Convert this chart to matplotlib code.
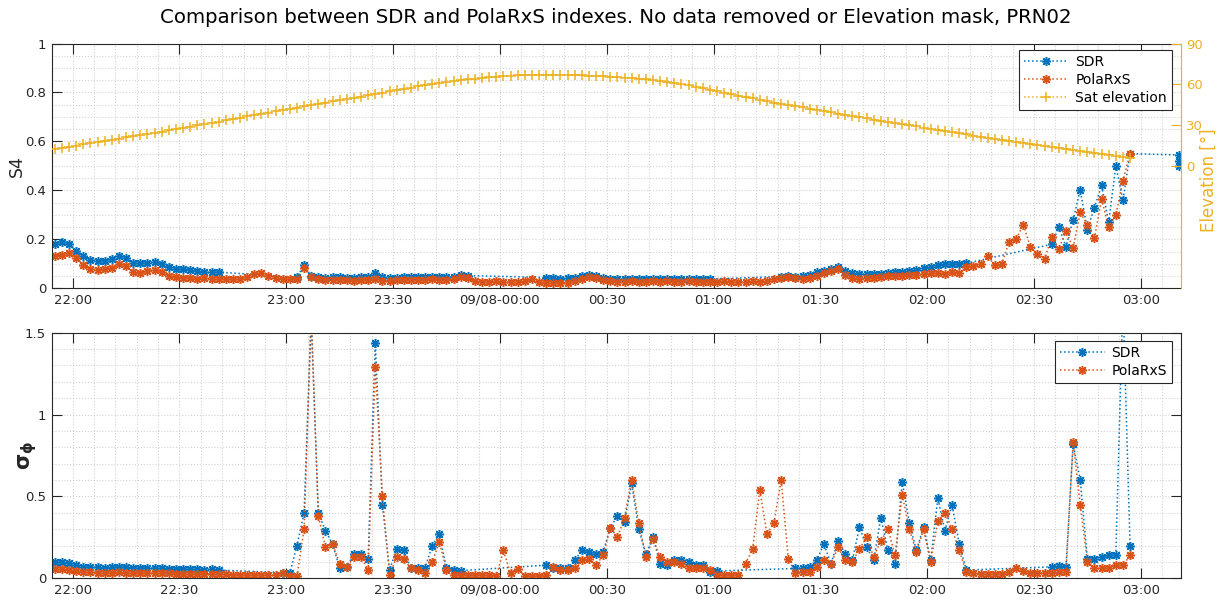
import numpy as np
import pandas as pd
import matplotlib
matplotlib.use('Agg')
import matplotlib.pyplot as plt
import matplotlib.dates as mdates
from matplotlib.ticker import MultipleLocator, FuncFormatter

# sample times, minutes after 22:00 (one value every 2 min)
minutes = np.arange(-5, 299, 2)
base = pd.Timestamp('2017-09-07 22:00')

# S4, PolaRxS
s4_pol = [
    0.131, 0.138, 0.145, 0.125, 0.095, 0.080, 0.074, 0.078, 0.084, 0.098,
    0.092, 0.066, 0.063, 0.069, 0.074, 0.066, 0.052, 0.046, 0.042, 0.041,
    0.040, 0.041, 0.040, 0.039, 0.040, 0.039, 0.040, 0.048, 0.058, 0.061,
    0.052, 0.044, 0.038, 0.036, 0.040, 0.082, 0.045, 0.036, 0.034, 0.033,
    0.035, 0.032, 0.031, 0.034, 0.033, 0.036, 0.030, 0.031, 0.032, 0.034,
    0.033, 0.034, 0.034, 0.036, 0.034, 0.033, 0.038, 0.045, 0.042, 0.028,
    0.027, 0.026, 0.028, 0.027, 0.026, 0.027, 0.028, 0.036, 0.025, 0.021,
    0.020, 0.021, 0.022, 0.030, 0.040, 0.046, 0.042, 0.032, 0.028, 0.027,
    0.026, 0.028, 0.027, 0.026, 0.028, 0.027, 0.028, 0.027, 0.026, 0.028,
    0.027, 0.026, 0.027, 0.026, 0.028, 0.027, 0.026, 0.027, 0.028, 0.027,
    0.030, 0.038, 0.044, 0.046, 0.042, 0.040, 0.042, 0.052, 0.062, 0.070,
    0.080, 0.055, 0.042, 0.040, 0.042, 0.044, 0.048, 0.050, 0.050, 0.052,
    0.054, 0.056, 0.060, 0.062, 0.064, 0.060, 0.066, 0.064, 0.085, 0.092,
    0.098, 0.130, 0.095, 0.100, 0.190, 0.200, 0.260, 0.170, 0.140, 0.120,
    0.210, 0.160, 0.235, 0.165, 0.310, 0.260, 0.205, 0.365, 0.250, 0.300,
    0.440, 0.550]

# S4, SDR (None = no sample, line joins over the gap)
s4_sdr = [
    0.182, 0.190, 0.182, 0.152, 0.130, 0.116, 0.112, 0.113, 0.120, 0.133,
    0.122, 0.102, 0.105, 0.103, 0.109, 0.100, 0.087, 0.080, 0.077, 0.073,
    0.070, 0.066, 0.065, 0.066, None, None, None, None, None, None,
    None, None, None, None, 0.045, 0.095, 0.050, 0.046, 0.044, 0.045,
    0.047, 0.044, 0.043, 0.045, 0.048, 0.062, 0.045, 0.043, 0.044, 0.045,
    0.046, 0.045, 0.046, 0.046, 0.045, 0.046, 0.047, 0.055, 0.052, None,
    None, None, None, None, None, None, None, None, None, 0.044,
    0.041, 0.040, 0.041, 0.044, 0.052, 0.055, 0.052, 0.043, 0.040, 0.039,
    0.038, 0.039, 0.040, 0.039, 0.038, 0.039, 0.040, 0.039, 0.038, 0.039,
    0.040, 0.039, 0.038, None, None, None, None, None, None, None,
    None, None, 0.048, 0.050, 0.048, 0.050, 0.055, 0.065, 0.070, 0.080,
    0.089, 0.070, 0.061, 0.058, 0.057, 0.058, 0.060, 0.062, 0.066, 0.068,
    0.070, 0.075, 0.082, 0.088, 0.095, 0.098, 0.100, 0.100, 0.102, None,
    None, None, None, None, None, None, None, None, None, None,
    0.180, 0.250, 0.170, 0.280, 0.400, 0.240, 0.330, 0.420, 0.270, 0.500,
    0.360, 0.550]
# last SDR block at 03:11
s4_sdr_tail_min = [310.8, 310.8, 310.8]
s4_sdr_tail = [0.545, 0.520, 0.500]

# satellite elevation [deg]
elev = [
    12.3, 13.2, 14.1, 15.0, 15.8, 16.7, 17.6, 18.5, 19.3, 20.1,
    21.0, 21.8, 22.7, 23.5, 24.4, 25.2, 26.1, 26.9, 27.9, 28.8,
    29.8, 30.7, 31.7, 32.6, 33.6, 34.5, 35.5, 36.4, 37.4, 38.3,
    39.2, 40.2, 41.1, 42.0, 42.9, 43.8, 44.7, 45.6, 46.5, 47.4,
    48.3, 49.2, 50.1, 51.0, 51.9, 52.9, 53.8, 54.8, 55.8, 56.7,
    57.6, 58.5, 59.3, 60.1, 60.9, 61.6, 62.3, 63.0, 63.6, 64.2,
    64.7, 65.2, 65.6, 66.0, 66.3, 66.6, 66.8, 66.9, 67.0, 67.0,
    67.0, 66.9, 66.8, 66.7, 66.5, 66.3, 66.1, 65.9, 65.6, 65.3,
    65.0, 64.6, 64.2, 63.7, 63.1, 62.5, 61.8, 61.0, 60.1, 59.2,
    58.2, 57.2, 56.1, 55.0, 53.9, 52.8, 51.7, 50.6, 49.6, 48.6,
    47.6, 46.6, 45.7, 44.8, 43.9, 43.0, 42.1, 41.2, 40.3, 39.4,
    38.5, 37.6, 36.7, 35.8, 34.9, 34.1, 33.2, 32.4, 31.5, 30.7,
    29.8, 29.0, 28.1, 27.3, 26.4, 25.6, 24.8, 23.9, 23.1, 22.3,
    21.5, 20.7, 20.0, 19.2, 18.5, 17.7, 17.0, 16.3, 15.5, 14.8,
    14.0, 13.3, 12.5, 11.8, 11.0, 10.3, 9.6, 8.8, 8.1, 7.4,
    6.7, 6.0]

# sigma phi, PolaRxS
sig_pol = [
    0.055, 0.055, 0.050, 0.042, 0.038, 0.036, 0.035, 0.035, 0.034, 0.036,
    0.034, 0.033, 0.032, 0.033, 0.031, 0.030, 0.032, 0.029, 0.028, 0.027,
    0.028, 0.026, 0.025, 0.024, 0.025, 0.022, 0.020, 0.021, 0.020, 0.019,
    0.021, 0.022, 0.030, 0.015, 0.012, 0.300, 1.600, 0.380, 0.190, 0.210,
    0.090, 0.070, 0.130, 0.130, 0.050, 1.290, 0.500, 0.020, 0.130, 0.120,
    0.060, 0.050, 0.030, 0.100, 0.220, 0.050, 0.020, 0.020, 0.020, 0.020,
    0.018, 0.020, 0.015, 0.170, 0.030, 0.055, 0.015, 0.015, 0.016, 0.020,
    0.070, 0.050, 0.050, 0.060, 0.110, 0.120, 0.080, 0.140, 0.310, 0.250,
    0.370, 0.600, 0.340, 0.130, 0.240, 0.130, 0.100, 0.100, 0.090, 0.060,
    0.060, 0.060, 0.050, 0.020, 0.020, 0.020, 0.020, 0.090, 0.180, 0.540,
    0.270, 0.340, 0.600, 0.120, 0.030, 0.040, 0.040, 0.070, 0.110, 0.090,
    0.190, 0.110, 0.100, 0.180, 0.250, 0.130, 0.230, 0.300, 0.140, 0.510,
    0.300, 0.160, 0.300, 0.100, 0.350, 0.400, 0.300, 0.170, 0.040, 0.030,
    0.026, 0.025, 0.027, 0.028, 0.040, 0.060, 0.045, 0.035, 0.033, 0.034,
    0.035, 0.036, 0.040, 0.830, 0.450, 0.100, 0.060, 0.060, 0.065, 0.080,
    0.080, 0.140]

# sigma phi, SDR
sig_sdr = [
    0.100, 0.100, 0.095, 0.080, 0.070, 0.068, 0.066, 0.065, 0.066, 0.068,
    0.066, 0.064, 0.063, 0.065, 0.062, 0.060, 0.058, 0.058, 0.056, 0.055,
    0.054, 0.053, 0.055, 0.050, None, None, None, None, None, None,
    None, None, 0.035, 0.030, 0.200, 0.400, 1.600, 0.400, 0.290, 0.210,
    0.060, 0.070, 0.150, 0.150, 0.120, 1.440, 0.450, 0.050, 0.180, 0.170,
    0.060, 0.060, 0.065, 0.200, 0.270, 0.060, 0.050, 0.047, None, None,
    None, None, None, None, None, None, None, None, None, 0.080,
    0.060, 0.060, 0.065, 0.110, 0.170, 0.160, 0.150, 0.160, 0.310, 0.380,
    0.345, 0.580, 0.300, 0.150, 0.250, 0.090, 0.080, 0.110, 0.110, 0.100,
    0.080, 0.080, 0.040, 0.045, None, None, None, None, None, None,
    None, None, None, None, 0.060, 0.060, 0.070, 0.110, 0.210, 0.090,
    0.230, 0.150, 0.110, 0.315, 0.190, 0.110, 0.370, 0.170, 0.090, 0.590,
    0.340, 0.170, 0.315, 0.110, 0.490, 0.290, 0.450, 0.210, 0.050, None,
    None, None, None, None, None, None, None, None, None, None,
    0.070, 0.075, 0.070, 0.820, 0.600, 0.120, 0.120, 0.130, 0.140, 0.140,
    1.700, 0.200]

for arr in (s4_pol, s4_sdr, elev, sig_pol, sig_sdr):
    assert len(arr) == len(minutes), len(arr)

c_sdr = '#0072BD'
c_pol = '#D95319'
c_elev = '#EDB120'
c_axis = '#262626'
asterisk = (8, 2, 0)


def to_time(mins):
    return (base + pd.to_timedelta(np.asarray(mins, dtype=float), unit='m')).to_numpy()


def plot_series(ax, mins, vals, color, marker, label, ms=6.5, extra=None):
    v = np.array(vals, dtype=float)
    ok = ~np.isnan(v)
    t = np.asarray(mins, dtype=float)[ok]
    v = v[ok]
    if extra is not None:
        t = np.concatenate([t, extra[0]])
        v = np.concatenate([v, extra[1]])
    line, = ax.plot(to_time(t), v, linestyle=':', linewidth=1.1, color=color,
                    marker=marker, markersize=ms, markeredgewidth=1.1,
                    label=label)
    return line


def time_label(x, pos):
    d = mdates.num2date(x)
    if d.hour == 0 and d.minute == 0:
        return d.strftime('%m/%d-%H:%M')
    return d.strftime('%H:%M')


def style_axes(ax, ymin, ymax, ymaj, ymin_step, right=True):
    ax.set_xlim(to_time([-5.9])[0], to_time([311.2])[0])
    ax.set_ylim(ymin, ymax)
    ax.xaxis.set_major_locator(mdates.MinuteLocator(byminute=[0, 30]))
    ax.xaxis.set_minor_locator(mdates.MinuteLocator(byminute=range(0, 60, 6)))
    ax.xaxis.set_major_formatter(FuncFormatter(time_label))
    ax.yaxis.set_major_locator(MultipleLocator(ymaj))
    ax.yaxis.set_minor_locator(MultipleLocator(ymin_step))
    ax.yaxis.set_major_formatter(FuncFormatter(lambda v, p: '%g' % v))
    ax.grid(True, which='both', linestyle=':', linewidth=0.8, color='#d2d2d2')
    ax.set_axisbelow(True)
    ax.tick_params(which='major', direction='in', length=7, width=0.8,
                   top=True, right=right, labelsize=9.5, colors=c_axis, pad=4)
    ax.tick_params(which='minor', length=0)
    for s in ax.spines.values():
        s.set_color(c_axis)
        s.set_linewidth(0.8)


fig = plt.figure(figsize=(12.27, 6.01), dpi=100)
ax1 = fig.add_axes([0.0421, 0.5203, 0.9201, 0.4073])
ax3 = fig.add_axes([0.0421, 0.0378, 0.9201, 0.4086])

# top: S4 + elevation
l1 = plot_series(ax1, minutes, s4_sdr, c_sdr, asterisk, 'SDR',
                 extra=(s4_sdr_tail_min, s4_sdr_tail))
l2 = plot_series(ax1, minutes, s4_pol, c_pol, asterisk, 'PolaRxS')
style_axes(ax1, 0, 1, 0.2, 0.05, right=False)
ax1.spines['right'].set_visible(False)
ax1.set_ylabel('S4', fontsize=12.5, color=c_axis)
ax1.yaxis.set_label_coords(-0.023, 0.5)

ax2 = ax1.twinx()
l3 = plot_series(ax2, minutes, elev, c_elev, '+', 'Sat elevation', ms=7)
ax2.set_ylim(-90, 90)
ax2.set_yticks([0, 30, 60, 90])
ax2.tick_params(axis='y', direction='in', length=7, width=0.8,
                labelsize=9.5, colors=c_elev, pad=4)
for k in ('top', 'left', 'bottom'):
    ax2.spines[k].set_visible(False)
ax2.spines['right'].set_color(c_elev)
ax2.spines['right'].set_linewidth(0.8)
ax2.set_ylabel('Elevation [°]', fontsize=12, color=c_elev)
ax2.yaxis.set_label_coords(1.017, 0.44)

leg = ax2.legend(handles=[l1, l2, l3], loc='upper right',
                 bbox_to_anchor=(0.9923, 0.9735), borderaxespad=0,
                 fontsize=10, numpoints=1, handlelength=3.2,
                 handletextpad=0.5, labelspacing=0.3, borderpad=0.35,
                 fancybox=False, framealpha=1, edgecolor=c_axis)
leg.get_frame().set_linewidth(0.8)

# bottom: sigma phi
m1 = plot_series(ax3, minutes, sig_sdr, c_sdr, asterisk, 'SDR')
m2 = plot_series(ax3, minutes, sig_pol, c_pol, asterisk, 'PolaRxS')
style_axes(ax3, 0, 1.5, 0.5, 0.1)
ax3.set_ylabel(r'$\mathbf{\sigma}_{\mathbf{\phi}}$', fontsize=15, color=c_axis)
ax3.yaxis.set_label_coords(-0.011, 0.5)
leg2 = ax3.legend(handles=[m1, m2], loc='upper right',
                  bbox_to_anchor=(0.9923, 0.9662), borderaxespad=0,
                  fontsize=10, numpoints=1, handlelength=3.2,
                  handletextpad=0.5, labelspacing=0.3, borderpad=0.35,
                  fancybox=False, framealpha=1, edgecolor=c_axis)
leg2.get_frame().set_linewidth(0.8)

fig.text(0.502, 0.9717,
         'Comparison between SDR and PolaRxS indexes. No data removed or '
         'Elevation mask, PRN02',
         ha='center', va='center', fontsize=14.2, color='black')

fig.savefig('out.png', dpi=100)
